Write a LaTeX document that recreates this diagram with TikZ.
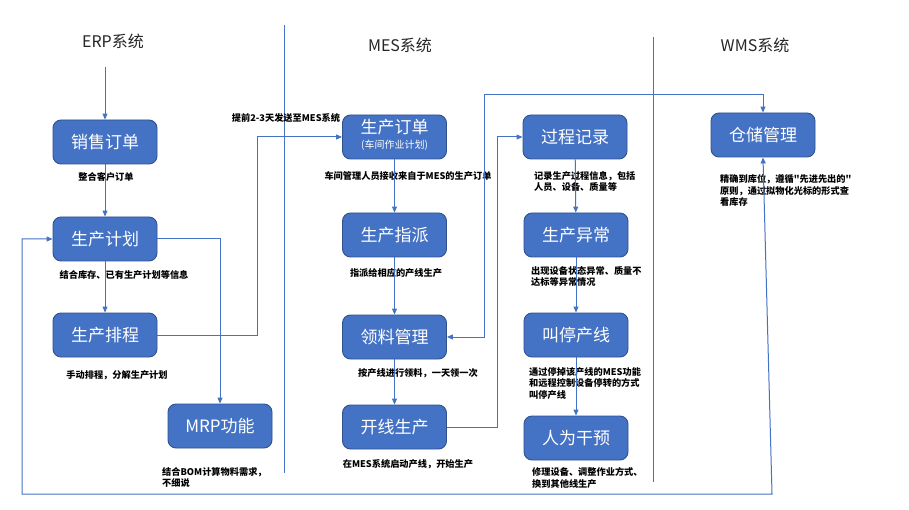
\documentclass[tikz,border=0pt]{standalone}
\usepackage{fontspec}
\setmainfont{Noto Sans CJK SC}
\newfontfamily\cjkfont{Noto Sans CJK SC}
\usetikzlibrary{arrows.meta}
\definecolor{boxfill}{HTML}{4472C4}
\definecolor{boxline}{HTML}{2F528F}
\definecolor{linkblue}{HTML}{4472C4}
\definecolor{titlegray}{HTML}{262626}
\newcommand{\notefont}{\cjkfont\bfseries\fontsize{9.2}{11.8}\selectfont}
\tikzset{
  box/.style={draw=boxline, line width=0.9pt, fill=boxfill, rounded corners=8pt,
    minimum width=104pt, minimum height=44pt, inner sep=0pt, text=white,
    font=\cjkfont\fontsize{17}{20}\selectfont},
  link/.style={draw=linkblue, line width=1pt},
  tipend/.style={-{Triangle[length=6pt,width=5pt]}},
  tipboth/.style={{Triangle[length=6pt,width=5pt]}-{Triangle[length=6pt,width=5pt]}},
  divider/.style={draw=linkblue, line width=1pt},
  note/.style={font=\notefont, inner sep=0pt, align=left, text=black},
  title/.style={font=\cjkfont\fontsize{16}{18}\selectfont, text=titlegray, inner sep=0pt},
}
\begin{document}
\begin{tikzpicture}[x=1pt, y=-1pt]
\useasboundingbox[fill=white] (0,0) rectangle (909,510);

% column titles and separators
\node[title] (erpT) at (113,41) {ERP系统};
\node[title] (mesT) at (400,45) {MES系统};
\node[title] (wmsT) at (755,45) {WMS系统};
\draw[divider] (284,25) -- (284,473);
\draw[divider] (653,37) -- (653,482);

% ERP column
\node[box] (sales)  at (105,142) {销售订单};
\node[box] (plan)   at (105,239) {生产计划};
\node[box] (sched)  at (105,335) {生产排程};
\node[box] (mrp)    at (220,426) {MRP功能};

% MES column
\node[box] (order)  at (394.5,137) {\begin{tabular}{@{}c@{}}生产订单\\[-5pt]{\fontsize{10}{12}\selectfont (车间作业计划)}\end{tabular}};
\node[box] (assign) at (394.5,235) {生产指派};
\node[box] (pick)   at (394.5,337) {领料管理};
\node[box] (start)  at (394.5,427) {开线生产};
\node[box] (record) at (575,137) {过程记录};
\node[box] (abn)    at (576,235) {生产异常};
\node[box] (stop)   at (576,335) {叫停产线};
\node[box] (human)  at (576,438) {人为干预};

% WMS column
\node[box] (wms)    at (763,135) {仓储管理};

% notes
\node[note] (n1) at (106,177) {整合客户订单};
\node[note] (n2) at (124,275) {结合库存、已有生产计划等信息};
\node[note] (n3) at (117,375) {手动排程，分解生产计划};
\node[note, anchor=north west] (n4) at (162,467) {结合BOM计算物料需求，\\不细说};
\node[note] (n5) at (286,118) {提前2-3天发送至MES系统};
\node[note] (n6) at (408,176) {车间管理人员接收来自于MES的生产订单};
\node[note] (n7) at (396,273) {指派给相应的产线生产};
\node[note] (n8) at (418,373) {按产线进行领料，一天领一次};
\node[note] (n9) at (408,464) {在MES系统启动产线，开始生产};
\node[note, anchor=north west] (n10) at (534,171) {记录生产过程信息，包括\\人员、设备、质量等};
\node[note, anchor=north west] (n11) at (531,266) {出现设备状态异常、质量不\\达标等异常情况};
\node[note, anchor=north west] (n12) at (529,367) {通过停掉该产线的MES功能\\和远程控制设备停转的方式\\叫停产线};
\node[note, anchor=north west] (n13) at (532,467) {修理设备、调整作业方式、\\换到其他线生产};
\node[note, anchor=north west] (n14) at (720,174) {精确到库位，遵循"先进先出的"\\原则，通过拟物化光标的形式查\\看库存};

% bend points
\coordinate (erpin) at (105,67);
\coordinate (bendA) at (257,0);
\coordinate (bendB) at (497,0);
\coordinate (topC)  at (484,95);
\coordinate (loopL) at (22,494);
\coordinate (loopR) at (772,494);

% ERP flow
\draw[link,tipend] (erpin) -- (sales.north);
\draw[link,tipend] (sales) -- (plan);
\draw[link,tipend] (plan) -- (sched);
\draw[link,tipend] (plan.east) -| (mrp.north);
\draw[link,tipend] (sched.east) -- (sched.east -| bendA) |- (order.west);

% MES flow
\draw[link,tipend] (order) -- (assign);
\draw[link,tipend] (assign) -- (pick);
\draw[link,tipend] (pick) -- (start);
\draw[link,tipend] (start.east) -- (start.east -| bendB) |- (record.west);
\draw[link,tipend] (record) -- (abn);
\draw[link,tipend] (abn) -- (stop);
\draw[link,tipend] (stop) -- (human);

% links to the warehouse
\draw[link,tipboth] (pick.east) -| (topC) -| (wms.north);
\draw[link,tipboth] (plan.west) -| (loopL) -- (loopR) -- (wms.south);
\end{tikzpicture}
\end{document}
